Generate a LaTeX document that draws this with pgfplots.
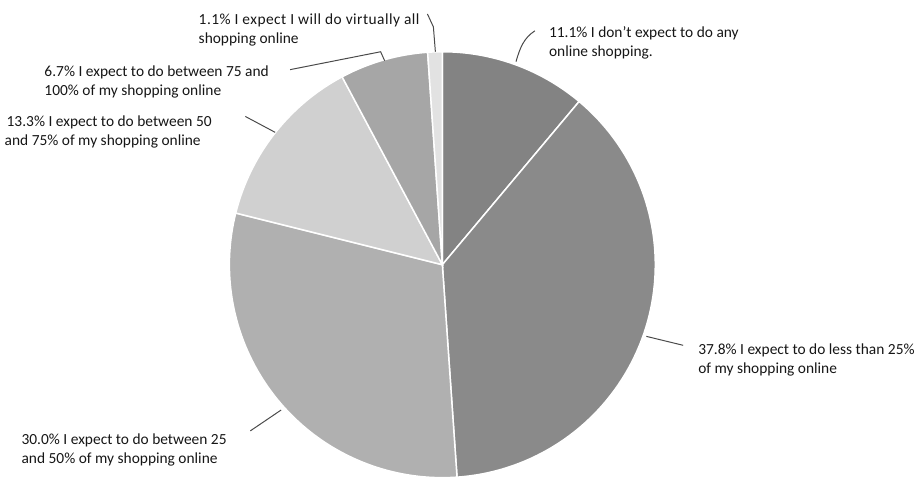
\documentclass[border=0pt]{standalone}
\usepackage{fontspec}
\setmainfont{Carlito}
\usepackage{pgfplots}
\usepackage{pgfplotstable}
\pgfplotsset{compat=1.18}

% slice tones
\definecolor{sliceA}{HTML}{838383}
\definecolor{sliceB}{HTML}{8A8A8A}
\definecolor{sliceC}{HTML}{B0B0B0}
\definecolor{sliceD}{HTML}{D0D0D0}
\definecolor{sliceE}{HTML}{A6A6A6}
\definecolor{sliceF}{HTML}{E2E2E2}
\definecolor{leader}{HTML}{4A4A4A}
\definecolor{txt}{HTML}{161616}

% shares in percent, clockwise from 12 o'clock
\pgfplotstableread[col sep=comma]{
share,tone
11.1,sliceA
37.8,sliceB
30.0,sliceC
13.3,sliceD
6.7,sliceE
1.1,sliceF
}\sharestable

\newcommand\lbl{\fontsize{15.5bp}{19bp}\selectfont\color{txt}}

\begin{document}
% start/end angle of every slice
\def\cum{0}
\pgfplotsforeachungrouped \i in {0,...,5}{%
  \pgfplotstablegetelem{\i}{share}\of\sharestable
  \let\val\pgfplotsretval
  \pgfmathsetmacro\hi{90-3.6*\cum}%
  \pgfmathsetmacro\cum{\cum+\val}%
  \pgfmathsetmacro\lo{90-3.6*\cum}%
  \expandafter\xdef\csname lo\i\endcsname{\lo}%
  \expandafter\xdef\csname hi\i\endcsname{\hi}%
  \pgfplotstablegetelem{\i}{tone}\of\sharestable
  \expandafter\xdef\csname tone\i\endcsname{\pgfplotsretval}%
}
\begin{tikzpicture}
\begin{axis}[
  name=pie,
  scale only axis, width=920bp, height=487bp,
  xmin=0, xmax=920, ymin=0, ymax=487, y dir=reverse,
  hide axis, clip=false,
]
\pgfplotsforeachungrouped \i in {0,...,5}{%
  \edef\next{\noexpand\addplot[fill=\csname tone\i\endcsname, draw=white,
    line width=1.5bp, domain=\csname lo\i\endcsname:\csname hi\i\endcsname,
    samples=80] ({440+214*cos(x)},{266-214*sin(x)}) -- (axis cs:440,266) -- cycle;}%
  \next
}
% leader lines
\begin{scope}[draw=leader, line width=1bp]
\draw (433,52) -- (431,27) -- (425,14);
\draw (287,70) -- (378,52) -- (382,61);
\draw (242,117) -- (272,133);
\draw (533,31) .. controls (522,38) and (518,48) .. (514,62);
\draw (645,338) -- (682,347);
\draw (278,412) -- (247,433);
\end{scope}
% labels
\node[anchor=base west, inner sep=0, font=\lbl] at (195,25) {\addfontfeatures{LetterSpace=3}1.1\% I expect I will do virtually all};
\node[anchor=base west, inner sep=0, font=\lbl] at (195,44) {shopping online};
\node[anchor=base west, inner sep=0, font=\lbl] at (40,77) {6.7\% I expect to do between 75 and};
\node[anchor=base west, inner sep=0, font=\lbl] at (40,96) {100\% of my shopping online};
\node[anchor=base west, inner sep=0, font=\lbl] at (2,127) {13.3\% I expect to do between 50};
\node[anchor=base west, inner sep=0, font=\lbl] at (0,146) {and 75\% of my shopping online};
\node[anchor=base west, inner sep=0, font=\lbl] at (547,38) {11.1\% I don't expect to do any};
\node[anchor=base west, inner sep=0, font=\lbl] at (547,57) {online shopping.};
\node[anchor=base west, inner sep=0, font=\lbl] at (697,356) {37.8\% I expect to do less than 25\%};
\node[anchor=base west, inner sep=0, font=\lbl] at (697,375) {of my shopping online};
\node[anchor=base west, inner sep=0, font=\lbl] at (17,447) {30.0\% I expect to do between 25};
\node[anchor=base west, inner sep=0, font=\lbl] at (17,466) {and 50\% of my shopping online};
\end{axis}
\pgfresetboundingbox
\path (pie.south west) rectangle (pie.north east);
\end{tikzpicture}
\end{document}
